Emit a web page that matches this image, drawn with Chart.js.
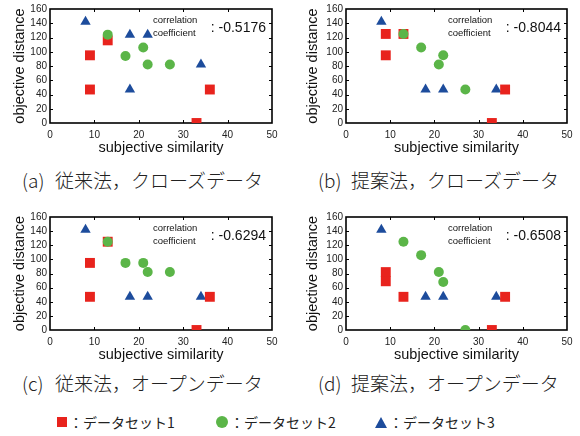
<!DOCTYPE html>
<html>
<head>
<meta charset="utf-8">
<script src="https://cdn.jsdelivr.net/npm/chart.js@4.4.0/dist/chart.umd.min.js"></script>
<style>
body{margin:0;width:580px;height:436px;background:#fff;position:relative;overflow:hidden;font-family:"Noto Sans CJK JP",sans-serif;color:#222}
canvas{position:absolute}
.cap{position:absolute;font-size:19px;line-height:1;white-space:pre;font-weight:300}
.leg{position:absolute;font-size:14px;line-height:1;white-space:pre;display:flex;align-items:center}
.mk{display:inline-block;margin-right:2px}
</style>
</head>
<body>
<canvas id="pa" width="290" height="160"></canvas>
<canvas id="pb" width="290" height="160"></canvas>
<canvas id="pc" width="290" height="160"></canvas>
<canvas id="pd" width="290" height="160"></canvas>
<script>
// ---- データ ----
const panelTags = ['(a)', '(b)', '(c)', '(d)'];
const captions = ['従来法，クローズデータ', '提案法，クローズデータ', '従来法，オープンデータ', '提案法，オープンデータ'];
const corrValues = ['-0.5176', '-0.8044', '-0.6294', '-0.6508'];
const seriesNames = ['データセット1', 'データセット2', 'データセット3'];
const xTitle = 'subjective similarity';
const yTitle = 'objective distance';
const corrLabel = ['correlation', 'coefficient'];

// (a) 従来法，クローズデータ
const set1A = [{x:9,y:47},{x:9,y:95},{x:13,y:116},{x:33,y:0},{x:36,y:47}];
const set2A = [{x:13,y:124},{x:17,y:94},{x:21,y:106},{x:22,y:82},{x:27,y:82}];
const set3A = [{x:8,y:142},{x:18,y:124},{x:22,y:124},{x:34,y:82},{x:18,y:47}];
// (b) 提案法，クローズデータ
const set1B = [{x:9,y:125},{x:9,y:95},{x:13,y:125},{x:33,y:0},{x:36,y:47}];
const set2B = [{x:13,y:125},{x:17,y:106},{x:21,y:82},{x:22,y:95},{x:27,y:47}];
const set3B = [{x:8,y:142},{x:18,y:47},{x:22,y:47},{x:34,y:47}];
// (c) 従来法，オープンデータ
const set1C = [{x:9,y:95},{x:9,y:47},{x:13,y:125},{x:33,y:0},{x:36,y:47}];
const set2C = [{x:13,y:125},{x:17,y:95},{x:21,y:95},{x:22,y:82},{x:27,y:82}];
const set3C = [{x:8,y:142},{x:18,y:47},{x:22,y:47},{x:34,y:47}];
// (d) 提案法，オープンデータ
const set1D = [{x:9,y:82},{x:9,y:69},{x:13,y:47},{x:33,y:0},{x:36,y:47}];
const set2D = [{x:13,y:125},{x:17,y:106},{x:21,y:82},{x:22,y:68},{x:27,y:0}];
const set3D = [{x:8,y:142},{x:18,y:47},{x:22,y:47},{x:34,y:47}];

const panelData = [[set1A,set2A,set3A],[set1B,set2B,set3B],[set1C,set2C,set3C],[set1D,set2D,set3D]];

// ---- 見た目 ----
const colors = ['#e8231d', '#5bb548', '#1d4c9c'];
const shapes = ['rect', 'circle', 'triangle'];
const radii = [7, 5, 6];
const order = [1, 0, 2];

const layout = [
  {id:'pa', left:0,   top:0,   padTop:6, padRight:18, yW:50, xH:37, yTitlePad:11, xTitlePad:3},
  {id:'pb', left:290, top:0,   padTop:6, padRight:13, yW:56, xH:37, yTitlePad:14, xTitlePad:3},
  {id:'pc', left:0,   top:208, padTop:6, padRight:18, yW:50, xH:38, yTitlePad:11, xTitlePad:4},
  {id:'pd', left:290, top:208, padTop:6, padRight:13, yW:56, xH:38, yTitlePad:14, xTitlePad:4}
];
const capPos = [{x:22, y:170}, {x:318, y:170}, {x:22, y:373}, {x:318, y:373}];

// 枠と内向きの目盛り、相関係数
const framePlugin = {
  id: 'frame',
  beforeDatasetsDraw(chart) {
    const {ctx, chartArea: a, scales: {x, y}} = chart;
    ctx.save();
    ctx.strokeStyle = '#000';
    ctx.lineWidth = 1;
    ctx.beginPath();
    x.ticks.forEach(t => {
      const px = Math.round(x.getPixelForValue(t.value)) + 0.5;
      if (px <= a.left + 1 || px >= a.right - 1) return;
      ctx.moveTo(px, a.bottom); ctx.lineTo(px, a.bottom - 3);
      ctx.moveTo(px, a.top); ctx.lineTo(px, a.top + 3);
    });
    y.ticks.forEach(t => {
      const py = Math.round(y.getPixelForValue(t.value)) + 0.5;
      if (py <= a.top + 1 || py >= a.bottom - 1) return;
      ctx.moveTo(a.left, py); ctx.lineTo(a.left + 3, py);
      ctx.moveTo(a.right, py); ctx.lineTo(a.right - 3, py);
    });
    ctx.stroke();
    ctx.lineWidth = 1.6;
    ctx.strokeRect(a.left, a.top, a.right - a.left, a.bottom - a.top);
    ctx.restore();
  },
  afterDraw(chart, args, opts) {
    const {ctx, chartArea: a} = chart;
    ctx.save();
    ctx.fillStyle = '#111';
    ctx.textBaseline = 'middle';
    ctx.textAlign = 'left';
    ctx.font = '9.5px "Liberation Sans", Arial, sans-serif';
    ctx.fillText(corrLabel[0], a.right - 119, a.top + 11.5);
    ctx.fillText(corrLabel[1], a.right - 119, a.top + 24);
    ctx.textAlign = 'right';
    ctx.font = '14px "Liberation Sans", Arial, sans-serif';
    ctx.fillText(': ' + opts.value, a.right - 6, a.top + 19);
    ctx.restore();
  }
};

const tickFont = {family: '"Liberation Sans", Arial, sans-serif', size: 10};
const titleFont = {family: '"Liberation Sans", Arial, sans-serif', size: 14.5};

layout.forEach((p, i) => {
  const cv = document.getElementById(p.id);
  cv.style.left = p.left + 'px';
  cv.style.top = p.top + 'px';
  new Chart(cv.getContext('2d'), {
    type: 'scatter',
    data: {
      datasets: panelData[i].map((pts, k) => ({
        label: seriesNames[k],
        data: pts,
        pointStyle: shapes[k],
        pointRadius: radii[k],
        pointHoverRadius: radii[k],
        backgroundColor: colors[k],
        borderColor: colors[k],
        borderWidth: 0,
        order: order[k]
      }))
    },
    options: {
      responsive: false,
      animation: false,
      layout: {padding: {top: p.padTop, right: p.padRight, left: 0, bottom: 0}},
      plugins: {legend: {display: false}, tooltip: {enabled: false}, frame: {value: corrValues[i]}},
      scales: {
        x: {
          type: 'linear', min: 0, max: 50,
          grid: {display: false, drawTicks: false},
          border: {display: false},
          ticks: {stepSize: 10, padding: 6, color: '#222', font: tickFont, maxRotation: 0, autoSkip: false},
          title: {display: true, text: xTitle, color: '#111', font: titleFont, padding: {top: 0, bottom: p.xTitlePad}},
          afterFit(s) { s.height = p.xH; }
        },
        y: {
          type: 'linear', min: 0, max: 160,
          grid: {display: false, drawTicks: false},
          border: {display: false},
          ticks: {stepSize: 20, padding: 3, color: '#222', font: tickFont, autoSkip: false},
          title: {display: true, text: yTitle, color: '#111', font: titleFont, padding: {top: p.yTitlePad, bottom: 0}},
          afterFit(s) { s.width = p.yW; }
        }
      }
    },
    plugins: [framePlugin]
  });
});

// キャプション
capPos.forEach((c, i) => {
  const tag = document.createElement('div');
  tag.className = 'cap';
  tag.style.left = c.x + 'px';
  tag.style.top = c.y + 'px';
  tag.textContent = panelTags[i];
  document.body.appendChild(tag);
  const txt = document.createElement('div');
  txt.className = 'cap';
  txt.style.left = (c.x + 33) + 'px';
  txt.style.top = c.y + 'px';
  txt.textContent = captions[i];
  document.body.appendChild(txt);
});

// 凡例
const legLeft = [57, 216, 375];
const markCss = [
  'width:10px;height:10px;background:' + colors[0],
  'width:12px;height:12px;border-radius:50%;background:' + colors[1],
  'width:0;height:0;border-left:6.5px solid transparent;border-right:6.5px solid transparent;border-bottom:11px solid ' + colors[2]
];
seriesNames.forEach((n, k) => {
  const d = document.createElement('div');
  d.className = 'leg';
  d.style.left = legLeft[k] + 'px';
  d.style.top = '415px';
  d.innerHTML = '<span class="mk" style="' + markCss[k] + '"></span>';
  d.appendChild(document.createTextNode('：' + n));
  document.body.appendChild(d);
});
</script>
</body>
</html>
